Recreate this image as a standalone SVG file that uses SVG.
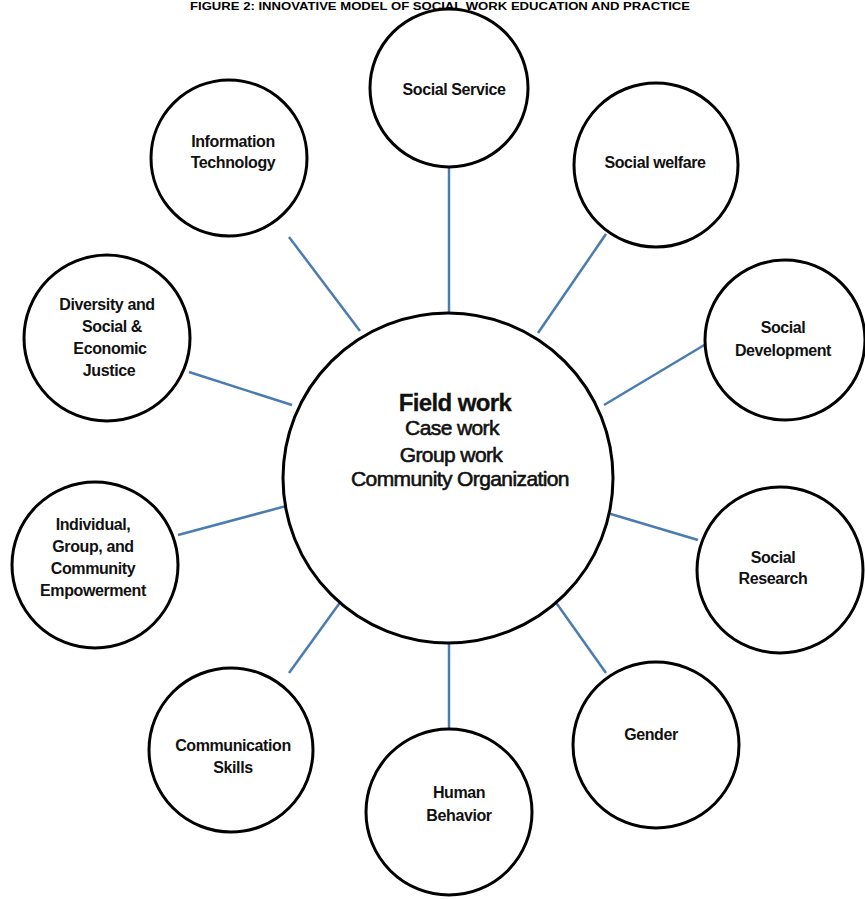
<svg xmlns="http://www.w3.org/2000/svg" width="865" height="899" viewBox="0 0 865 899">
  <style>
    .node { fill: #ffffff; stroke: #000000; stroke-width: 3; }
    .lbl { font-family: "Liberation Sans", Arial, sans-serif; font-weight: bold; font-size: 16px; fill: #111111; text-anchor: middle; letter-spacing: -0.4px; }
    .hub { font-family: "Liberation Sans", Arial, sans-serif; font-size: 21px; fill: #111111; stroke: #111111; stroke-width: 0.6; text-anchor: middle; letter-spacing: -0.6px; }
    .hubtitle { font-weight: bold; font-size: 24px; stroke-width: 0.3; }
    .title { font-family: "Liberation Sans", Arial, sans-serif; font-weight: bold; font-size: 11px; fill: #000000; }
    .link { stroke: #4a7cb0; stroke-width: 2.5; fill: none; }
  </style>
  <rect width="865" height="899" fill="#ffffff"/>

  <text class="title" x="190" y="10" textLength="500" lengthAdjust="spacingAndGlyphs">FIGURE 2: INNOVATIVE MODEL OF SOCIAL WORK EDUCATION AND PRACTICE</text>

  <!-- spokes from the hub to each satellite -->
  <g id="connectors">
    <line class="link" x1="449" y1="166" x2="449" y2="313"/>
    <line class="link" x1="289" y1="237" x2="360" y2="331"/>
    <line class="link" x1="606" y1="234" x2="538" y2="333"/>
    <line class="link" x1="706" y1="344" x2="604" y2="405"/>
    <line class="link" x1="189" y1="372" x2="292" y2="405"/>
    <line class="link" x1="178" y1="535" x2="290" y2="505"/>
    <line class="link" x1="698" y1="540" x2="604" y2="512"/>
    <line class="link" x1="606" y1="673" x2="540" y2="580"/>
    <line class="link" x1="449" y1="644" x2="449" y2="730"/>
    <line class="link" x1="289" y1="673" x2="357" y2="579"/>
  </g>

  <g id="hub">
    <circle class="node" cx="448" cy="478" r="165"/>
    <text class="hub hubtitle" x="455" y="411">Field work</text>
    <text class="hub" x="452" y="435">Case work</text>
    <text class="hub" x="451" y="462">Group work</text>
    <text class="hub" x="460" y="486">Community Organization</text>
  </g>

  <g id="social-service">
    <circle class="node" cx="449" cy="88" r="79"/>
    <text class="lbl" x="454" y="95">Social Service</text>
  </g>

  <g id="information-technology">
    <circle class="node" cx="229" cy="158" r="78"/>
    <text class="lbl" x="233" y="147">Information</text>
    <text class="lbl" x="233" y="168">Technology</text>
  </g>

  <g id="social-welfare">
    <circle class="node" cx="656" cy="165" r="82"/>
    <text class="lbl" x="655" y="168">Social  welfare</text>
  </g>

  <g id="social-development">
    <circle class="node" cx="785" cy="340" r="80"/>
    <text class="lbl" x="783" y="333">Social</text>
    <text class="lbl" x="783" y="356">Development</text>
  </g>

  <g id="diversity">
    <circle class="node" cx="107" cy="338" r="83"/>
    <text class="lbl" x="107" y="310">Diversity and</text>
    <text class="lbl" x="112" y="332">Social  &amp;</text>
    <text class="lbl" x="110" y="354">Economic</text>
    <text class="lbl" x="109" y="376">Justice</text>
  </g>

  <g id="empowerment">
    <circle class="node" cx="95" cy="565" r="83"/>
    <text class="lbl" x="93" y="530">Individual,</text>
    <text class="lbl" x="93" y="552">Group, and</text>
    <text class="lbl" x="93" y="574">Community</text>
    <text class="lbl" x="93" y="596">Empowerment</text>
  </g>

  <g id="social-research">
    <circle class="node" cx="780" cy="570" r="83"/>
    <text class="lbl" x="773" y="563">Social</text>
    <text class="lbl" x="773" y="584">Research</text>
  </g>

  <g id="gender">
    <circle class="node" cx="656" cy="745" r="83"/>
    <text class="lbl" x="651" y="740">Gender</text>
  </g>

  <g id="human-behavior">
    <circle class="node" cx="449" cy="812" r="83"/>
    <text class="lbl" x="459" y="798">Human</text>
    <text class="lbl" x="459" y="821">Behavior</text>
  </g>

  <g id="communication-skills">
    <circle class="node" cx="231" cy="750" r="82"/>
    <text class="lbl" x="233" y="751">Communication</text>
    <text class="lbl" x="233" y="773">Skills</text>
  </g>
</svg>
